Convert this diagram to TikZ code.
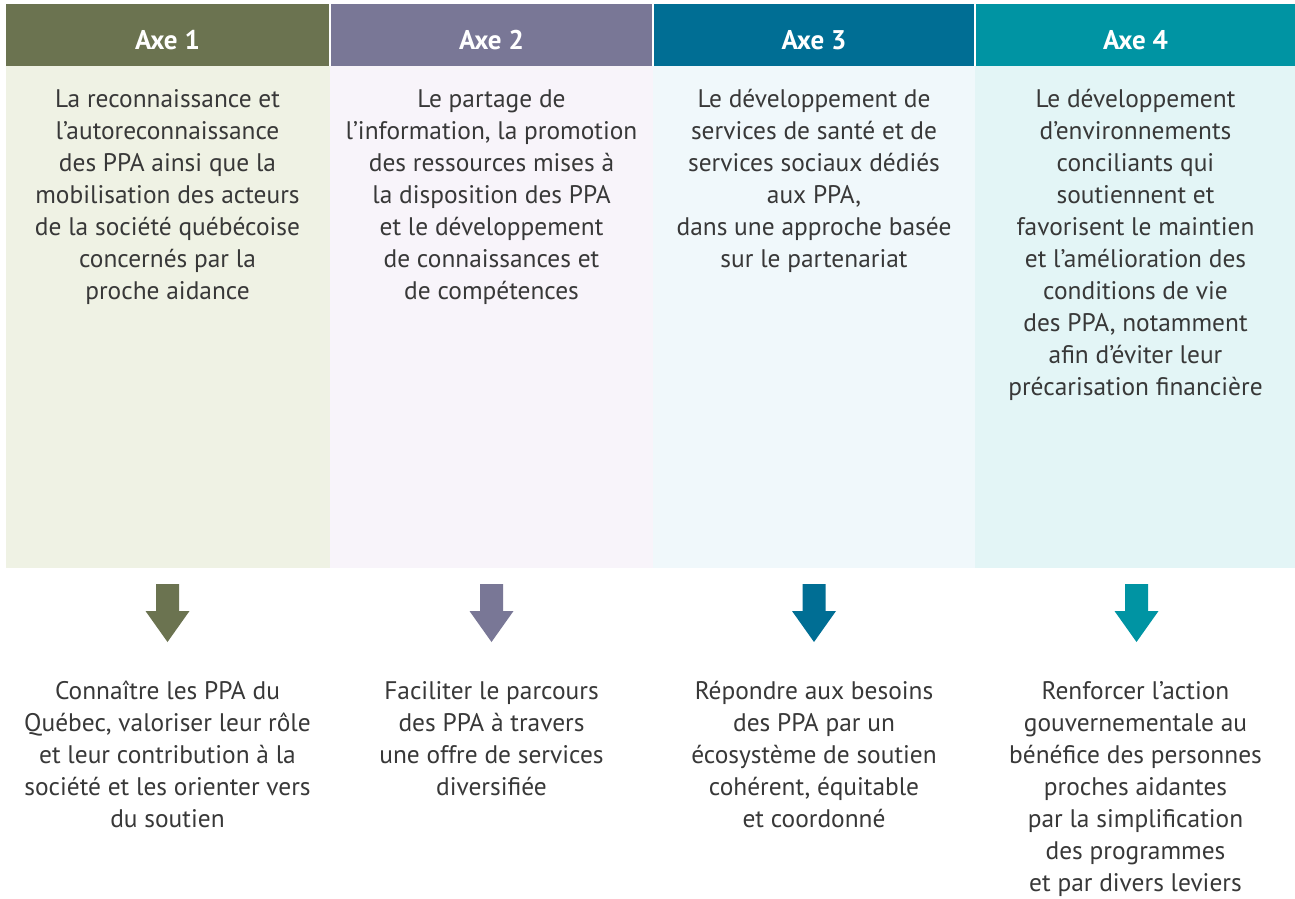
\documentclass[tikz,border=0pt]{standalone}
\usepackage{fontspec}
\setmainfont{PT Sans}
\definecolor{hA}{HTML}{6B7350}
\definecolor{hB}{HTML}{797796}
\definecolor{hC}{HTML}{006E94}
\definecolor{hD}{HTML}{0094A3}
\definecolor{bA}{HTML}{EFF2E4}
\definecolor{bB}{HTML}{F8F4FA}
\definecolor{bC}{HTML}{F0F8FB}
\definecolor{bD}{HTML}{E3F5F6}
\definecolor{txt}{HTML}{383838}
\tikzset{
  head/.style={text=white, font=\fontsize{27}{30}\selectfont\bfseries, inner sep=0pt},
  body/.style={text=txt, font=\fontsize{25.4}{32}\selectfont, align=center, inner sep=0pt, anchor=north},
  pics/blockarrow/.style={code={\fill[#1] (-11.5,0) -- (11.5,0) -- (11.5,27) -- (22,27) -- (0,58) -- (-22,27) -- (-11.5,27) -- cycle;}}
}
\begin{document}
\begin{tikzpicture}[x=1pt,y=-1pt]
\useasboundingbox (0,0) rectangle (1295,898);
\fill[white] (0,0) rectangle (1295,898);
% bodies
\fill[bA] (6,66) rectangle (330,568);
\fill[bB] (330,66) rectangle (653,568);
\fill[bC] (653,66) rectangle (975,568);
\fill[bD] (975,66) rectangle (1295,568);
% headers
\fill[hA] (6,4) rectangle (329,66);
\fill[hB] (331,4) rectangle (652,66);
\fill[hC] (654,4) rectangle (974,66);
\fill[hD] (976,4) rectangle (1295,66);
\node[head] (h1) at (167.5,40) {Axe 1};
\node[head] (h2) at (491.5,40) {Axe 2};
\node[head] (h3) at (814,40) {Axe 3};
\node[head] (h4) at (1135.5,40) {Axe 4};
% top texts
\node[body] (t1) at (167.5,84.5) {\strut La reconnaissance et\\l’autoreconnaissance\\des PPA ainsi que la\\mobilisation des acteurs\\de la société québécoise\\concernés par la\\proche aidance};
\node[body] (t2) at (491.5,84.5) {\strut Le partage de\\l’information, la promotion\\des ressources mises à\\la disposition des PPA\\et le développement\\de connaissances et\\de compétences};
\node[body] (t3) at (814,84.5) {\strut Le développement de\\services de santé et de\\services sociaux dédiés\\aux PPA,\\dans une approche basée\\sur le partenariat};
\node[body] (t4) at (1135.5,84.5) {\strut Le développement\\d’environnements\\conciliants qui\\soutiennent et\\favorisent le maintien\\et l’amélioration des\\conditions de vie\\des PPA, notamment\\afin d’éviter leur\\précarisation financière};
% arrows
\pic at (167.5,584) {blockarrow=hA};
\pic at (491.5,584) {blockarrow=hB};
\pic at (814,584) {blockarrow=hC};
\pic at (1136.5,584) {blockarrow=hD};
% bottom texts
\node[body] (r1) at (167.5,677) {\strut Connaître les PPA du\\Québec, valoriser leur rôle\\et leur contribution à la\\société et les orienter vers\\du soutien};
\node[body] (r2) at (491.5,677) {\strut Faciliter le parcours\\des PPA à travers\\une offre de services\\diversifiée};
\node[body] (r3) at (814,677) {\strut Répondre aux besoins\\des PPA par un\\écosystème de soutien\\cohérent, équitable\\et coordonné};
\node[body] (r4) at (1135.5,677) {\strut Renforcer l’action\\gouvernementale au\\bénéfice des personnes\\proches aidantes\\par la simplification\\des programmes\\et par divers leviers};
\end{tikzpicture}
\end{document}
